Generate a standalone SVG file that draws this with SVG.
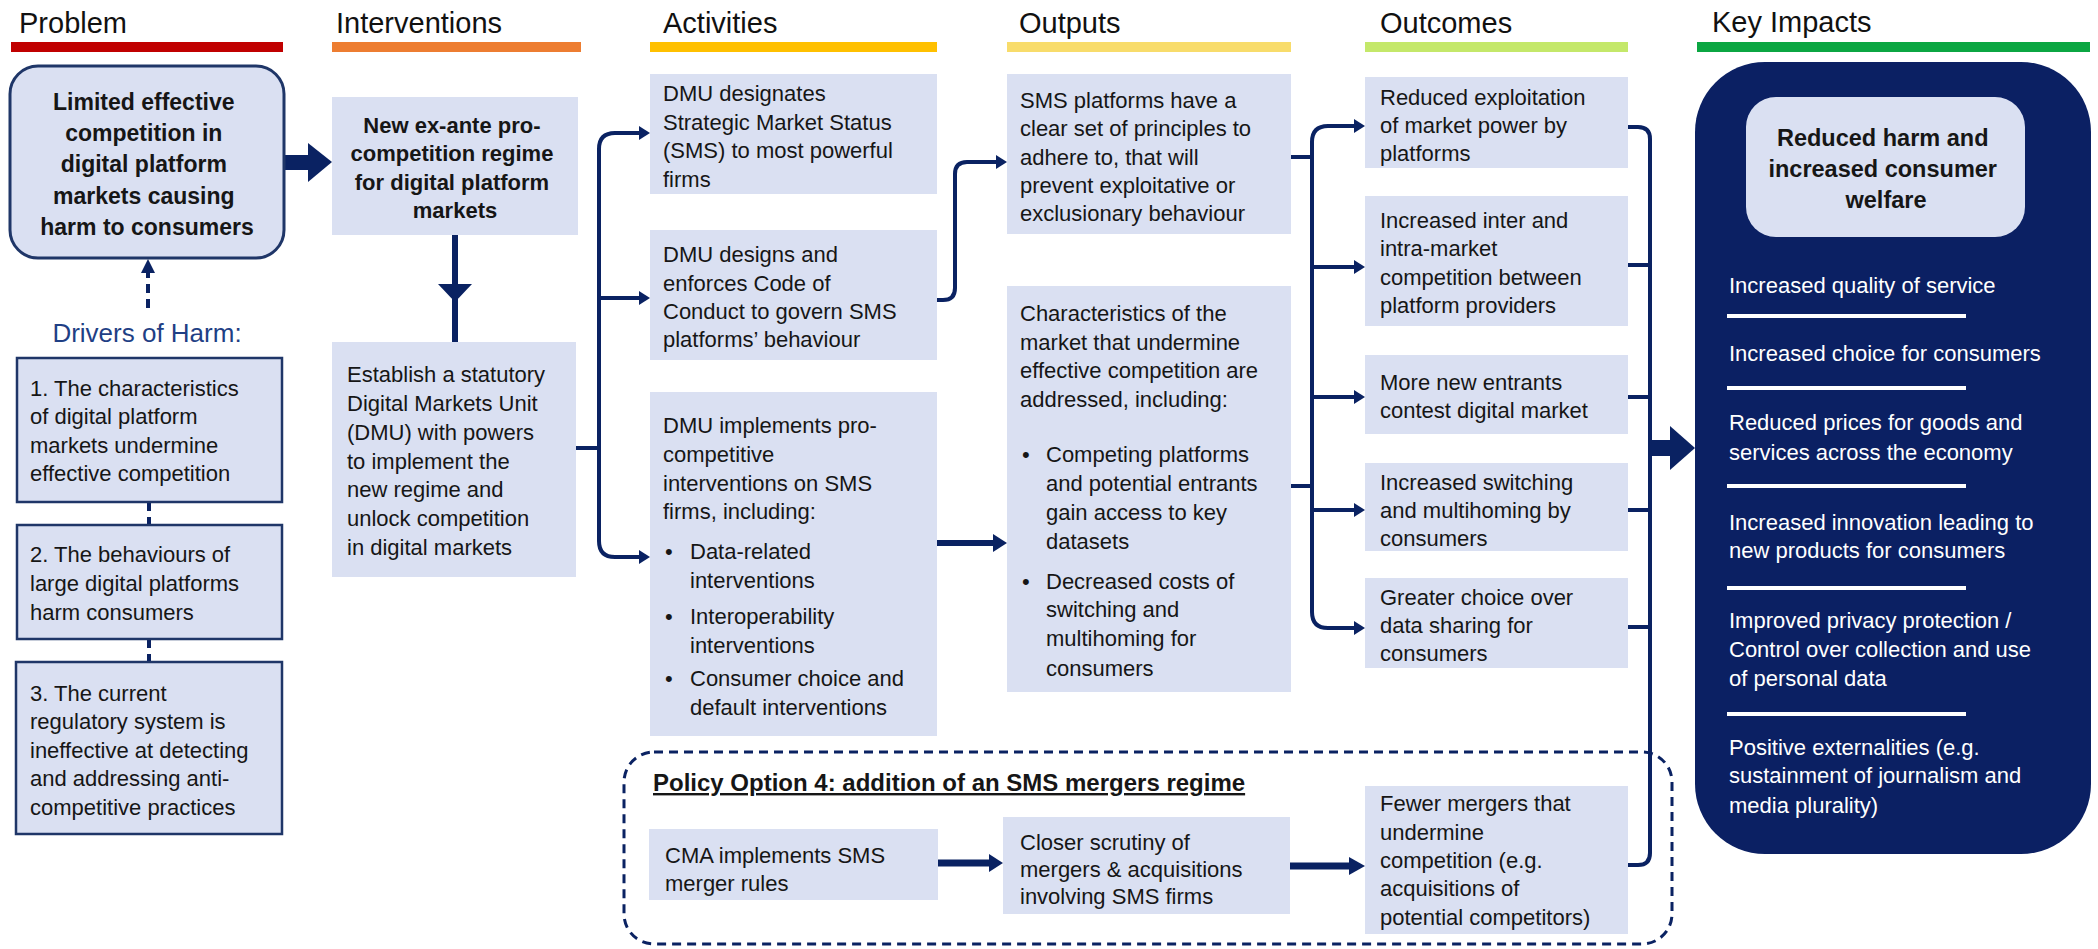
<svg xmlns="http://www.w3.org/2000/svg" width="2098" height="949" viewBox="0 0 2098 949">
  <defs>
    <style>
      .t{font-family:"Liberation Sans",Arial,sans-serif;font-size:22px;fill:#161616}
      .bd{font-weight:bold}
      .hd{font-family:"Liberation Sans",Arial,sans-serif;font-size:29px;fill:#111}
      .wt{font-family:"Liberation Sans",Arial,sans-serif;font-size:22px;fill:#fff}
      .box{fill:#DAE0F2}
      .frame{fill:#DAE0F2;stroke:#1F3668;stroke-width:2.5}
      .conn{fill:none;stroke:#0A2262;stroke-width:4}
      .dash{fill:none;stroke:#0A2262;stroke-width:4;stroke-dasharray:9 6}
      .head{fill:#0A2262}
      .rule{stroke:#fff;stroke-width:4}
    </style>
    <marker id="tip" markerUnits="userSpaceOnUse" markerWidth="11" markerHeight="14" refX="0" refY="7" orient="auto">
      <path d="M0,0 L11,7 L0,14 z" fill="#0A2262"/>
    </marker>
  </defs>

  <!-- column headings -->
  <g id="headings">
    <text class="hd" x="19" y="33">Problem</text>
    <rect x="11" y="42" width="272" height="10" fill="#C00000"/>
    <text class="hd" x="336" y="33">Interventions</text>
    <rect x="332" y="42" width="249" height="10" fill="#ED7D31"/>
    <text class="hd" x="663" y="33">Activities</text>
    <rect x="650" y="42" width="287" height="10" fill="#FFC000"/>
    <text class="hd" x="1019" y="33">Outputs</text>
    <rect x="1007" y="42" width="284" height="10" fill="#F8DC6B"/>
    <text class="hd" x="1380" y="33">Outcomes</text>
    <rect x="1365" y="42" width="263" height="10" fill="#C4E86A"/>
    <text class="hd" x="1712" y="32">Key Impacts</text>
    <rect x="1697" y="42" width="393" height="10" fill="#0BA642"/>
  </g>

  <!-- connectors -->
  <g id="connectors">
    <!-- problem to interventions -->
    <rect x="284" y="155" width="26" height="15" class="head"/>
    <polygon points="308,143 332,162 308,182" class="head"/>
    <!-- regime to DMU -->
    <line x1="455" y1="235" x2="455" y2="342" stroke="#0A2262" stroke-width="6"/>
    <polygon points="438,284 472,284 455,302" class="head"/>
    <!-- drivers to problem -->
    <line x1="148" y1="308" x2="148" y2="272" class="dash"/>
    <polygon points="141,273 155,273 148,259" class="head"/>
    <line x1="149" y1="502" x2="149" y2="525" class="dash"/>
    <line x1="149" y1="639" x2="149" y2="662" class="dash"/>
    <!-- DMU to activities -->
    <path class="conn" d="M576 448 H599"/>
    <path class="conn" d="M599 448 V149 Q599 133 615 133 H639" marker-end="url(#tip)"/>
    <path class="conn" d="M599 298 H639" marker-end="url(#tip)"/>
    <path class="conn" d="M599 448 V541 Q599 557 615 557 H639" marker-end="url(#tip)"/>
    <!-- activities to outputs -->
    <path class="conn" d="M937 300 H943 Q955 300 955 288 V174 Q955 162 967 162 H996" marker-end="url(#tip)"/>
    <line x1="937" y1="543" x2="995" y2="543" stroke="#0A2262" stroke-width="6"/>
    <polygon points="993,534 1007,543 993,552" class="head"/>
    <!-- outputs to outcomes -->
    <path class="conn" d="M1291 157 H1312"/>
    <path class="conn" d="M1291 486 H1312"/>
    <path class="conn" d="M1312 486 V142 Q1312 126 1328 126 H1354" marker-end="url(#tip)"/>
    <path class="conn" d="M1312 267 H1354" marker-end="url(#tip)"/>
    <path class="conn" d="M1312 397 H1354" marker-end="url(#tip)"/>
    <path class="conn" d="M1312 510 H1354" marker-end="url(#tip)"/>
    <path class="conn" d="M1312 486 V612 Q1312 628 1328 628 H1354" marker-end="url(#tip)"/>
    <!-- outcomes to key impacts -->
    <path class="conn" d="M1628 127 H1638 Q1650 127 1650 139 V853 Q1650 865 1638 865 H1628"/>
    <path class="conn" d="M1628 265 H1650 M1628 397 H1650 M1628 510 H1650 M1628 627 H1650"/>
    <rect x="1650" y="440" width="22" height="16" class="head"/>
    <polygon points="1670,426 1695,448 1670,470" class="head"/>
    <!-- merger regime chain -->
    <line x1="938" y1="863" x2="991" y2="863" stroke="#0A2262" stroke-width="7"/>
    <polygon points="989,854 1003,863 989,872" class="head"/>
    <line x1="1290" y1="866" x2="1351" y2="866" stroke="#0A2262" stroke-width="7"/>
    <polygon points="1349,857 1365,866 1349,875" class="head"/>
  </g>

  <!-- problem -->
  <g id="problem">
    <rect x="10" y="66" width="274" height="192" rx="28" class="frame" style="stroke-width:3"/>
    <text class="t bd" style="font-size:23px" text-anchor="middle">
      <tspan x="147" y="110">Limited effective</tspan>
      <tspan x="147" y="141">competition in</tspan>
      <tspan x="147" y="172">digital platform</tspan>
      <tspan x="147" y="204">markets causing</tspan>
      <tspan x="147" y="235">harm to consumers</tspan>
    </text>
  </g>

  <g id="drivers-label">
    <text x="147" y="342" text-anchor="middle" font-family="Liberation Sans,Arial,sans-serif" font-size="26" fill="#1F3F85">Drivers of Harm:</text>
  </g>

  <g id="driver-1">
    <rect x="17" y="358" width="265" height="144" class="frame"/>
    <text class="t">
      <tspan x="30" y="396">1. The characteristics</tspan>
      <tspan x="30" y="424">of digital platform</tspan>
      <tspan x="30" y="453">markets undermine</tspan>
      <tspan x="30" y="481">effective competition</tspan>
    </text>
  </g>
  <g id="driver-2">
    <rect x="17" y="525" width="265" height="114" class="frame"/>
    <text class="t">
      <tspan x="30" y="562">2. The behaviours of</tspan>
      <tspan x="30" y="591">large digital platforms</tspan>
      <tspan x="30" y="620">harm consumers</tspan>
    </text>
  </g>
  <g id="driver-3">
    <rect x="16" y="662" width="266" height="172" class="frame"/>
    <text class="t">
      <tspan x="30" y="701">3. The current</tspan>
      <tspan x="30" y="729">regulatory system is</tspan>
      <tspan x="30" y="758">ineffective at detecting</tspan>
      <tspan x="30" y="786">and addressing anti-</tspan>
      <tspan x="30" y="815">competitive practices</tspan>
    </text>
  </g>

  <!-- interventions -->
  <g id="regime">
    <rect x="332" y="97" width="246" height="138" class="box"/>
    <text class="t bd" text-anchor="middle">
      <tspan x="455" y="133">New ex-ante pro-</tspan>
      <tspan x="455" y="161">competition regime</tspan>
      <tspan x="455" y="190">for digital platform</tspan>
      <tspan x="455" y="218">markets</tspan>
    </text>
  </g>
  <g id="dmu">
    <rect x="332" y="342" width="244" height="235" class="box"/>
    <text class="t">
      <tspan x="347" y="382">Establish a statutory</tspan>
      <tspan x="347" y="411">Digital Markets Unit</tspan>
      <tspan x="347" y="440">(DMU) with powers</tspan>
      <tspan x="347" y="469">to implement the</tspan>
      <tspan x="347" y="497">new regime and</tspan>
      <tspan x="347" y="526">unlock competition</tspan>
      <tspan x="347" y="555">in digital markets</tspan>
    </text>
  </g>

  <!-- activities -->
  <g id="act-sms">
    <rect x="650" y="74" width="287" height="120" class="box"/>
    <text class="t">
      <tspan x="663" y="101">DMU designates</tspan>
      <tspan x="663" y="130">Strategic Market Status</tspan>
      <tspan x="663" y="158">(SMS) to most powerful</tspan>
      <tspan x="663" y="187">firms</tspan>
    </text>
  </g>
  <g id="act-code">
    <rect x="650" y="230" width="287" height="130" class="box"/>
    <text class="t">
      <tspan x="663" y="262">DMU designs and</tspan>
      <tspan x="663" y="291">enforces Code of</tspan>
      <tspan x="663" y="319">Conduct to govern SMS</tspan>
      <tspan x="663" y="347">platforms’ behaviour</tspan>
    </text>
  </g>
  <g id="act-interventions">
    <rect x="650" y="392" width="287" height="344" class="box"/>
    <text class="t">
      <tspan x="663" y="433">DMU implements pro-</tspan>
      <tspan x="663" y="462">competitive</tspan>
      <tspan x="663" y="491">interventions on SMS</tspan>
      <tspan x="663" y="519">firms, including:</tspan>
    </text>
    <text class="t">
      <tspan x="665" y="559">•</tspan>
      <tspan x="665" y="624">•</tspan>
      <tspan x="665" y="686">•</tspan>
    </text>
    <text class="t">
      <tspan x="690" y="559">Data-related</tspan>
      <tspan x="690" y="588">interventions</tspan>
      <tspan x="690" y="624">Interoperability</tspan>
      <tspan x="690" y="653">interventions</tspan>
      <tspan x="690" y="686">Consumer choice and</tspan>
      <tspan x="690" y="715">default interventions</tspan>
    </text>
  </g>

  <!-- outputs -->
  <g id="out-principles">
    <rect x="1007" y="74" width="284" height="160" class="box"/>
    <text class="t">
      <tspan x="1020" y="108">SMS platforms have a</tspan>
      <tspan x="1020" y="136">clear set of principles to</tspan>
      <tspan x="1020" y="165">adhere to, that will</tspan>
      <tspan x="1020" y="193">prevent exploitative or</tspan>
      <tspan x="1020" y="221">exclusionary behaviour</tspan>
    </text>
  </g>
  <g id="out-characteristics">
    <rect x="1007" y="286" width="284" height="406" class="box"/>
    <text class="t">
      <tspan x="1020" y="321">Characteristics of the</tspan>
      <tspan x="1020" y="350">market that undermine</tspan>
      <tspan x="1020" y="378">effective competition are</tspan>
      <tspan x="1020" y="407">addressed, including:</tspan>
    </text>
    <text class="t">
      <tspan x="1022" y="462">•</tspan>
      <tspan x="1022" y="589">•</tspan>
    </text>
    <text class="t">
      <tspan x="1046" y="462">Competing platforms</tspan>
      <tspan x="1046" y="491">and potential entrants</tspan>
      <tspan x="1046" y="520">gain access to key</tspan>
      <tspan x="1046" y="549">datasets</tspan>
      <tspan x="1046" y="589">Decreased costs of</tspan>
      <tspan x="1046" y="617">switching and</tspan>
      <tspan x="1046" y="646">multihoming for</tspan>
      <tspan x="1046" y="676">consumers</tspan>
    </text>
  </g>

  <!-- outcomes -->
  <g id="oc-exploitation">
    <rect x="1365" y="77" width="263" height="91" class="box"/>
    <text class="t">
      <tspan x="1380" y="105">Reduced exploitation</tspan>
      <tspan x="1380" y="133">of market power by</tspan>
      <tspan x="1380" y="161">platforms</tspan>
    </text>
  </g>
  <g id="oc-competition">
    <rect x="1365" y="196" width="263" height="130" class="box"/>
    <text class="t">
      <tspan x="1380" y="228">Increased inter and</tspan>
      <tspan x="1380" y="256">intra-market</tspan>
      <tspan x="1380" y="285">competition between</tspan>
      <tspan x="1380" y="313">platform providers</tspan>
    </text>
  </g>
  <g id="oc-entrants">
    <rect x="1365" y="355" width="263" height="79" class="box"/>
    <text class="t">
      <tspan x="1380" y="390">More new entrants</tspan>
      <tspan x="1380" y="418">contest digital market</tspan>
    </text>
  </g>
  <g id="oc-switching">
    <rect x="1365" y="463" width="263" height="88" class="box"/>
    <text class="t">
      <tspan x="1380" y="490">Increased switching</tspan>
      <tspan x="1380" y="518">and multihoming by</tspan>
      <tspan x="1380" y="546">consumers</tspan>
    </text>
  </g>
  <g id="oc-data">
    <rect x="1365" y="578" width="263" height="90" class="box"/>
    <text class="t">
      <tspan x="1380" y="605">Greater choice over</tspan>
      <tspan x="1380" y="633">data sharing for</tspan>
      <tspan x="1380" y="661">consumers</tspan>
    </text>
  </g>

  <!-- key impacts -->
  <g id="key-impacts">
    <rect x="1695" y="62" width="396" height="792" rx="70" fill="#0B2063"/>
    <rect x="1746" y="97" width="279" height="140" rx="30" class="box"/>
    <text class="t bd" style="font-size:23.5px" text-anchor="middle">
      <tspan x="1886" y="146">Reduced harm and</tspan>
      <tspan x="1886" y="177">increased consumer</tspan>
      <tspan x="1886" y="208">welfare</tspan>
    </text>
    <text class="wt">
      <tspan x="1729" y="293">Increased quality of service</tspan>
      <tspan x="1729" y="361">Increased choice for consumers</tspan>
      <tspan x="1729" y="430">Reduced prices for goods and</tspan>
      <tspan x="1729" y="460">services across the economy</tspan>
      <tspan x="1729" y="530">Increased innovation leading to</tspan>
      <tspan x="1729" y="558">new products for consumers</tspan>
      <tspan x="1729" y="628">Improved privacy protection /</tspan>
      <tspan x="1729" y="657">Control over collection and use</tspan>
      <tspan x="1729" y="686">of personal data</tspan>
      <tspan x="1729" y="755">Positive externalities (e.g.</tspan>
      <tspan x="1729" y="783">sustainment of journalism and</tspan>
      <tspan x="1729" y="813">media plurality)</tspan>
    </text>
    <line class="rule" x1="1727" y1="316" x2="1966" y2="316"/>
    <line class="rule" x1="1727" y1="388" x2="1966" y2="388"/>
    <line class="rule" x1="1727" y1="486" x2="1966" y2="486"/>
    <line class="rule" x1="1727" y1="588" x2="1966" y2="588"/>
    <line class="rule" x1="1727" y1="714" x2="1966" y2="714"/>
  </g>

  <!-- merger regime option -->
  <g id="policy-option">
    <rect x="624" y="752" width="1048" height="192" rx="30" class="dash" style="stroke-width:3"/>
    <text class="t bd" style="font-size:24px" x="653" y="791" text-decoration="underline">Policy Option 4: addition of an SMS mergers regime</text>
  </g>
  <g id="cma-rules">
    <rect x="649" y="829" width="289" height="71" class="box"/>
    <text class="t">
      <tspan x="665" y="863">CMA implements SMS</tspan>
      <tspan x="665" y="891">merger rules</tspan>
    </text>
  </g>
  <g id="scrutiny">
    <rect x="1003" y="817" width="287" height="97" class="box"/>
    <text class="t">
      <tspan x="1020" y="850">Closer scrutiny of</tspan>
      <tspan x="1020" y="877">mergers &amp; acquisitions</tspan>
      <tspan x="1020" y="904">involving SMS firms</tspan>
    </text>
  </g>
  <g id="oc-mergers">
    <rect x="1365" y="786" width="263" height="148" class="box"/>
    <text class="t">
      <tspan x="1380" y="811">Fewer mergers that</tspan>
      <tspan x="1380" y="840">undermine</tspan>
      <tspan x="1380" y="868">competition (e.g.</tspan>
      <tspan x="1380" y="896">acquisitions of</tspan>
      <tspan x="1380" y="925">potential competitors)</tspan>
    </text>
  </g>
</svg>
